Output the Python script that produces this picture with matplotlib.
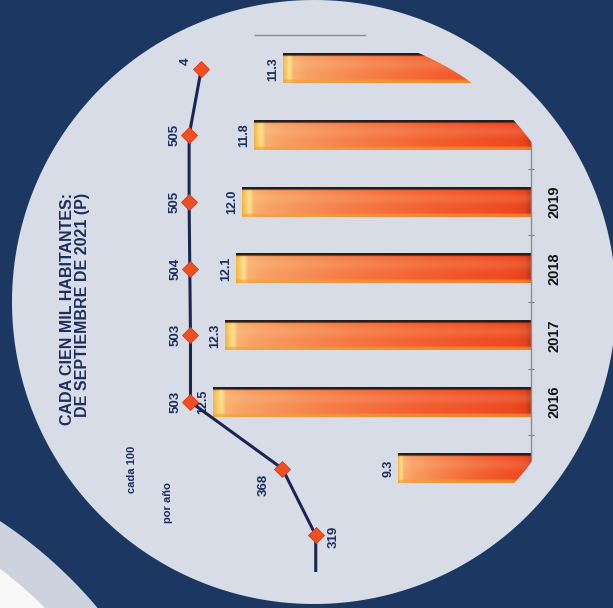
import numpy as np
import matplotlib
matplotlib.use("Agg")
import matplotlib.pyplot as plt
from matplotlib.path import Path
from matplotlib.patches import PathPatch
from matplotlib.lines import Line2D

# tasa por cada cien mil habitantes (barras) y cifras de la linea
bar_years = [2015, 2016, 2017, 2018, 2019, 2020, 2021]
bar_vals = [9.3, 12.5, 12.3, 12.1, 12.0, 11.8, 11.3]
bar_labels = ["9.3", "12.5", "12.3", "12.1", "12.0", "11.8", "11.3"]

year_ticks = [2016, 2017, 2018, 2019]
year_labels = ["2016", "2017", "2018", "2019"]

line_years = [2013, 2014, 2015, 2016, 2017, 2018, 2019, 2020, 2021]
line_vals = [319, 319, 368, 503, 503, 504, 505, 505, 487]
line_labels = ["", "319", "368", "503", "503", "504", "505", "505", "4"]

title_lines = ["CADA CIEN MIL HABITANTES:", "DE SEPTIEMBRE DE 2021 (P)"]
note_lines = ["cada 100", "por año"]

NAVY = "#1c3862"
DISK = "#d7dce7"
TXT = "#1c2d5e"
LINE = "#1b2650"

plt.rcParams["font.family"] = ["Liberation Sans", "DejaVu Sans"]

W, H = 613, 608
fig = plt.figure(figsize=(W / 100, H / 100), dpi=100, facecolor=DISK)


def fx(px):
    return px / W


def fy(py):
    return 1 - py / H


def bar_gradient(n_cols=300, n_rows=48):
    # columna 0 = base de la barra, ultima columna = extremo libre
    t = np.linspace(0, 1, n_cols)
    stops_t = [0.0, 0.02, 0.06, 0.35, 0.65, 0.9, 0.96, 0.975, 1.0]
    stops_c = [(190, 52, 24), (228, 66, 28), (238, 72, 32), (243, 94, 46), (246, 126, 72),
               (248, 160, 100), (249, 176, 112), (252, 226, 140), (244, 178, 66)]
    base = np.stack([np.interp(t, stops_t, [c[i] for c in stops_c]) for i in range(3)], axis=-1) / 255
    s = np.linspace(0, 1, n_rows)[:, None, None]
    hl = 0.14 * np.exp(-((s - 0.38) / 0.18) ** 2)
    img = base[None] * (1 - hl) + np.array([1.0, 0.9, 0.75]) * hl
    dark = np.clip((0.1 - s) / 0.04, 0, 1)
    img = img * (1 - dark) + np.array([40, 28, 26]) / 255 * dark
    bottom = 0.65 * np.clip((s - 0.87) / 0.06, 0, 1)
    img = img * (1 - bottom) + np.array([240, 160, 56]) / 255 * bottom
    return np.clip(img, 0, 1)


# eje de las barras (grafica girada: anos en vertical, valores hacia la izquierda)
ax = fig.add_axes([0, 0, fx(531), 1])
ax.set_facecolor("none")
x_lo, x_hi = 7.0, 16.19
y_lo, y_hi = 2012.91, 2022.03

bars = ax.barh(bar_years, [v - x_lo for v in bar_vals], left=x_lo, height=0.44,
               color="#f07a40", zorder=2)
grad = bar_gradient()
for p in bars.patches:
    ax.imshow(grad, extent=(p.get_x(), p.get_x() + p.get_width(), p.get_y(), p.get_y() + p.get_height()),
              aspect="auto", interpolation="bilinear", zorder=2.5)
ax.set_xlim(x_hi, x_lo)
ax.set_ylim(y_lo, y_hi)

for v, yv, lab in zip(bar_vals, bar_years, bar_labels):
    ax.annotate(lab, (v, yv), xytext=(-7, 0), textcoords="offset points", rotation=90,
                ha="center", va="center", fontsize=9, fontweight="bold", color=TXT, zorder=4)

for s in ["left", "top", "bottom"]:
    ax.spines[s].set_visible(False)
ax.spines["right"].set_color("#8d8d8d")
ax.spines["right"].set_linewidth(1.0)
ax.set_xticks([])
ax.yaxis.tick_right()
ax.set_yticks(year_ticks, year_labels)
ax.set_yticks([y - 0.5 for y in bar_years] + [bar_years[-1] + 0.5], minor=True)
ax.tick_params(axis="y", which="major", length=0, pad=12, labelsize=10.5,
               labelcolor="#141414", labelrotation=90)
ax.tick_params(axis="y", which="minor", length=5, width=0.8, direction="inout", color="#7d7d7d")
for t in ax.get_yticklabels():
    t.set_fontweight("bold")
    t.set_va("center")

# linea con rombos, con su propia escala
ax2 = ax.twiny()
ax2.plot(line_vals, line_years, color=LINE, lw=2.2, zorder=3, solid_joinstyle="round")
ax2.plot(line_vals[1:], line_years[1:], ls="none", marker="D", ms=8,
         mfc="#f04e23", mec="#dd3b17", mew=0.6, zorder=4)
ax2.set_xlim(782.8, 2.8)
ax2.set_xticks([])
for s in ax2.spines.values():
    s.set_visible(False)

offsets = {"319": (13, -1), "368": (-13.5, -12), "4": (-11.5, 5.5)}
for v, yv, lab in zip(line_vals, line_years, line_labels):
    if not lab:
        continue
    ax2.annotate(lab, (v, yv), xytext=offsets.get(lab, (-10.5, 0)), textcoords="offset points",
                 rotation=90, ha="center", va="center", fontsize=9.5, fontweight="bold",
                 color=TXT, zorder=6)

# circulo claro y fondo azul (recorta lo que sale del circulo)
cx, cy = 314, 302


def circle_verts(x0, y0, r, n=400):
    a = np.linspace(0, 2 * np.pi, n)
    return np.column_stack([fx(x0 + r * np.cos(a)), fy(y0 + r * np.sin(a))])


rect = np.array([[-1, -1], [2, -1], [2, 2], [-1, 2], [-1, -1]])
for r, col, z in [(270, DISK, 5), (302, NAVY, 5.1)]:
    path = Path.make_compound_path(Path(rect, closed=True), Path(circle_verts(cx, cy, r), closed=True))
    ax2.add_patch(PathPatch(path, facecolor=col, edgecolor="none", transform=fig.transFigure,
                            zorder=z, clip_on=False))
for r, col, z in [(454, "#ccd2de", 5.2), (415, "#f8f8f8", 5.3)]:
    ax2.add_patch(PathPatch(Path(circle_verts(-250, 900, r), closed=True), facecolor=col,
                            edgecolor="none", transform=fig.transFigure, zorder=z, clip_on=False))

fig.add_artist(Line2D([fx(255), fx(365)], [fy(35), fy(35)], transform=fig.transFigure,
                      color="#8c8c8c", lw=1, zorder=10))

# titulo en dos renglones (un solo texto, alineado al final como en la imagen)
fig.text(fx(75), fy(193), "\n".join(title_lines), rotation=90, ha="center", va="top",
         multialignment="right", linespacing=0.92, fontsize=11.5, fontweight="bold",
         color=TXT, zorder=10)
fig.text(fx(132), fy(446), note_lines[0], rotation=90, ha="center", va="top",
         fontsize=8, fontweight="bold", color=TXT, zorder=10)
fig.text(fx(168), fy(482), note_lines[1], rotation=90, ha="center", va="top",
         fontsize=8, fontweight="bold", color=TXT, zorder=10)

fig.savefig("out.png", dpi=100, facecolor=fig.get_facecolor())
